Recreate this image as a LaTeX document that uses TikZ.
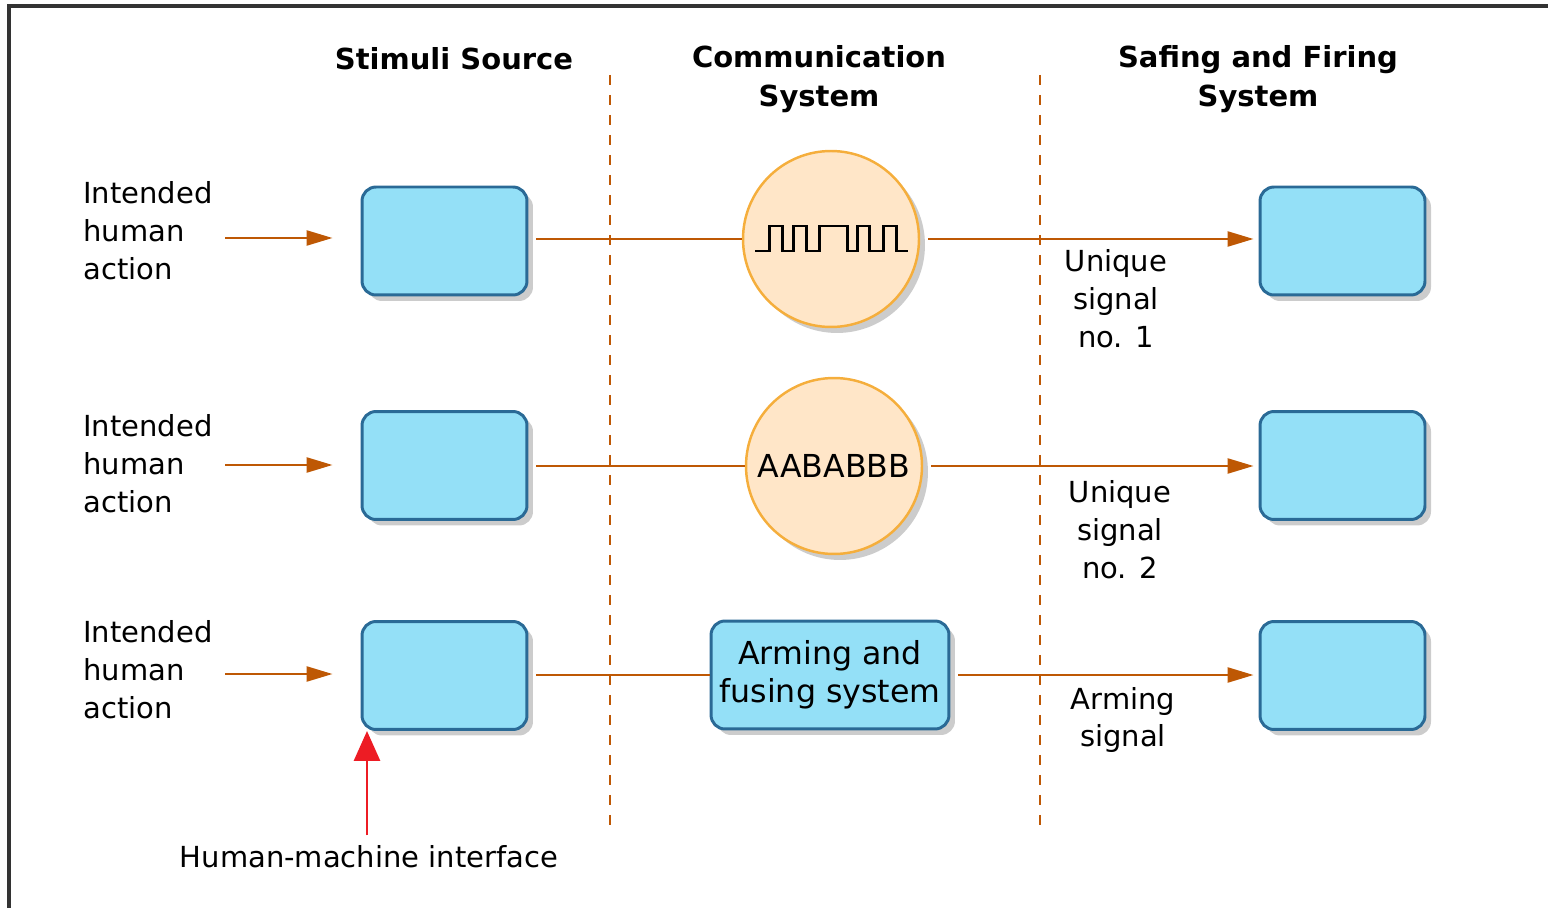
\documentclass[tikz,border=0pt]{standalone}
\usepackage{fontspec}
\setmainfont{DejaVu Sans}
\usetikzlibrary{arrows.meta,shadows}
\definecolor{flowc}{RGB}{190,88,4}
\definecolor{boxfill}{RGB}{148,224,247}
\definecolor{boxline}{RGB}{42,106,150}
\definecolor{circfill}{RGB}{255,230,200}
\definecolor{circline}{RGB}{245,174,60}
\definecolor{alarm}{RGB}{237,28,36}
\definecolor{framec}{RGB}{51,51,51}

\begin{document}
\begin{tikzpicture}[x=0.02cm, y=-0.02cm,
		unit/.style={draw=boxline, fill=boxfill, line width=1.7pt, rounded corners=0.28cm,
			minimum width=3.3cm, minimum height=2.16cm, inner sep=0pt,
			drop shadow={shadow xshift=0.12cm, shadow yshift=-0.12cm, fill=black!20, opacity=1}},
		sigcirc/.style={circle, draw=circline, fill=circfill, line width=1.4pt, minimum size=3.52cm, inner sep=0pt,
			drop shadow={shadow xshift=0.12cm, shadow yshift=-0.12cm, fill=black!20, opacity=1}},
		flow/.style={draw=flowc, line width=1.4pt, -{Triangle[length=0.52cm, width=0.3cm]}},
		link/.style={draw=flowc, line width=1.4pt},
		lane/.style={draw=flowc, line width=1.2pt, dash pattern=on 0.2cm off 0.2cm},
		txt/.style={font=\fontsize{16.5}{21.6}\selectfont, align=center, inner sep=0pt},
		big/.style={font=\fontsize{18}{21.6}\selectfont, align=center, inner sep=0pt},
		head/.style={font=\bfseries\fontsize{16.5}{22.2}\selectfont, align=center, inner sep=0pt}
	]

	\useasboundingbox (0,0) rectangle (1548,908);
	\draw[framec, line width=2pt] (9,6) rectangle (1580,940);

	% column heads
	\node[head] (hstim) at (454,59) {Stimuli Source};
	\node[head] (hcomm) at (819,79) {Communication\\System};
	\node[head] (hsafe) at (1258,79) {Safing and Firing\\System};

	\draw[lane] (610,75) -- (610,825);
	\draw[lane] (1040,75) -- (1040,825);

	% stimuli source
	\node[unit] (src1) at (444.5,241) {};
	\node[unit] (src2) at (444.5,465.5) {};
	\node[unit] (src3) at (444.5,675.5) {};

	% safing and firing
	\node[unit] (dst1) at (1342.5,241) {};
	\node[unit] (dst2) at (1342.5,465.5) {};
	\node[unit] (dst3) at (1342.5,675.5) {};

	% communication
	\node[sigcirc] (sig1) at (831,239) {};
	\node[sigcirc, big] (sig2) at (834,466) {AABABBB};
	\node[unit, big, minimum width=4.76cm] (arm) at (830,675) {Arming and\\fusing system};

	\draw[black, line width=1.7pt, shift={(sig1.center)}] (-76,12) -- (-62,12) -- (-62,-13) -- (-49,-13) -- (-49,12)
		-- (-38,12) -- (-38,-13) -- (-25,-13) -- (-25,12) -- (-12,12) -- (-12,-13) -- (16,-13) -- (16,12)
		-- (26,12) -- (26,-13) -- (38,-13) -- (38,12) -- (52,12) -- (52,-13) -- (65,-13) -- (65,12) -- (77,12);

	% inputs
	\node[txt, align=left, anchor=west] (act1) at (83,231) {Intended\\human\\action};
	\node[txt, align=left, anchor=west] (act2) at (83,464) {Intended\\human\\action};
	\node[txt, align=left, anchor=west] (act3) at (83,670) {Intended\\human\\action};

	\coordinate (in1) at (225,238);
	\coordinate (in2) at (225,465);
	\coordinate (in3) at (225,674);

	\draw[flow, shorten >=0.56cm] (in1) -- (in1 -| src1.west);
	\draw[flow, shorten >=0.56cm] (in2) -- (in2 -| src2.west);
	\draw[flow, shorten >=0.56cm] (in3) -- (in3 -| src3.west);

	\draw[link, shorten <=0.16cm] (src1.east |- sig1.west) -- (sig1.west);
	\draw[link, shorten <=0.16cm] (src2.east |- sig2.west) -- (sig2.west);
	\draw[link, shorten <=0.16cm] (src3.east |- arm.west) -- (arm.west);

	\draw[flow, shorten <=0.16cm, shorten >=0.1cm] (sig1.east) -- (sig1.east -| dst1.west);
	\draw[flow, shorten <=0.16cm, shorten >=0.1cm] (sig2.east) -- (sig2.east -| dst2.west);
	\draw[flow, shorten <=0.16cm, shorten >=0.1cm] (arm.east) -- (arm.east -| dst3.west);

	\node[txt] (lab1) at (1116,299) {Unique\\signal\\no. 1};
	\node[txt] (lab2) at (1120,530) {Unique\\signal\\no. 2};
	\node[txt] (lab3) at (1123,720) {Arming\\signal};

	% interface
	\node[txt] (hmi) at (369,857) {Human-machine interface};
	\draw[alarm, line width=1.7pt, -{Triangle[length=0.6cm, width=0.52cm]}] ([xshift=-0.04cm, yshift=0.2cm]hmi.north) -- ([xshift=-0.04cm]hmi.north |- src3.south);

\end{tikzpicture}
\end{document}
